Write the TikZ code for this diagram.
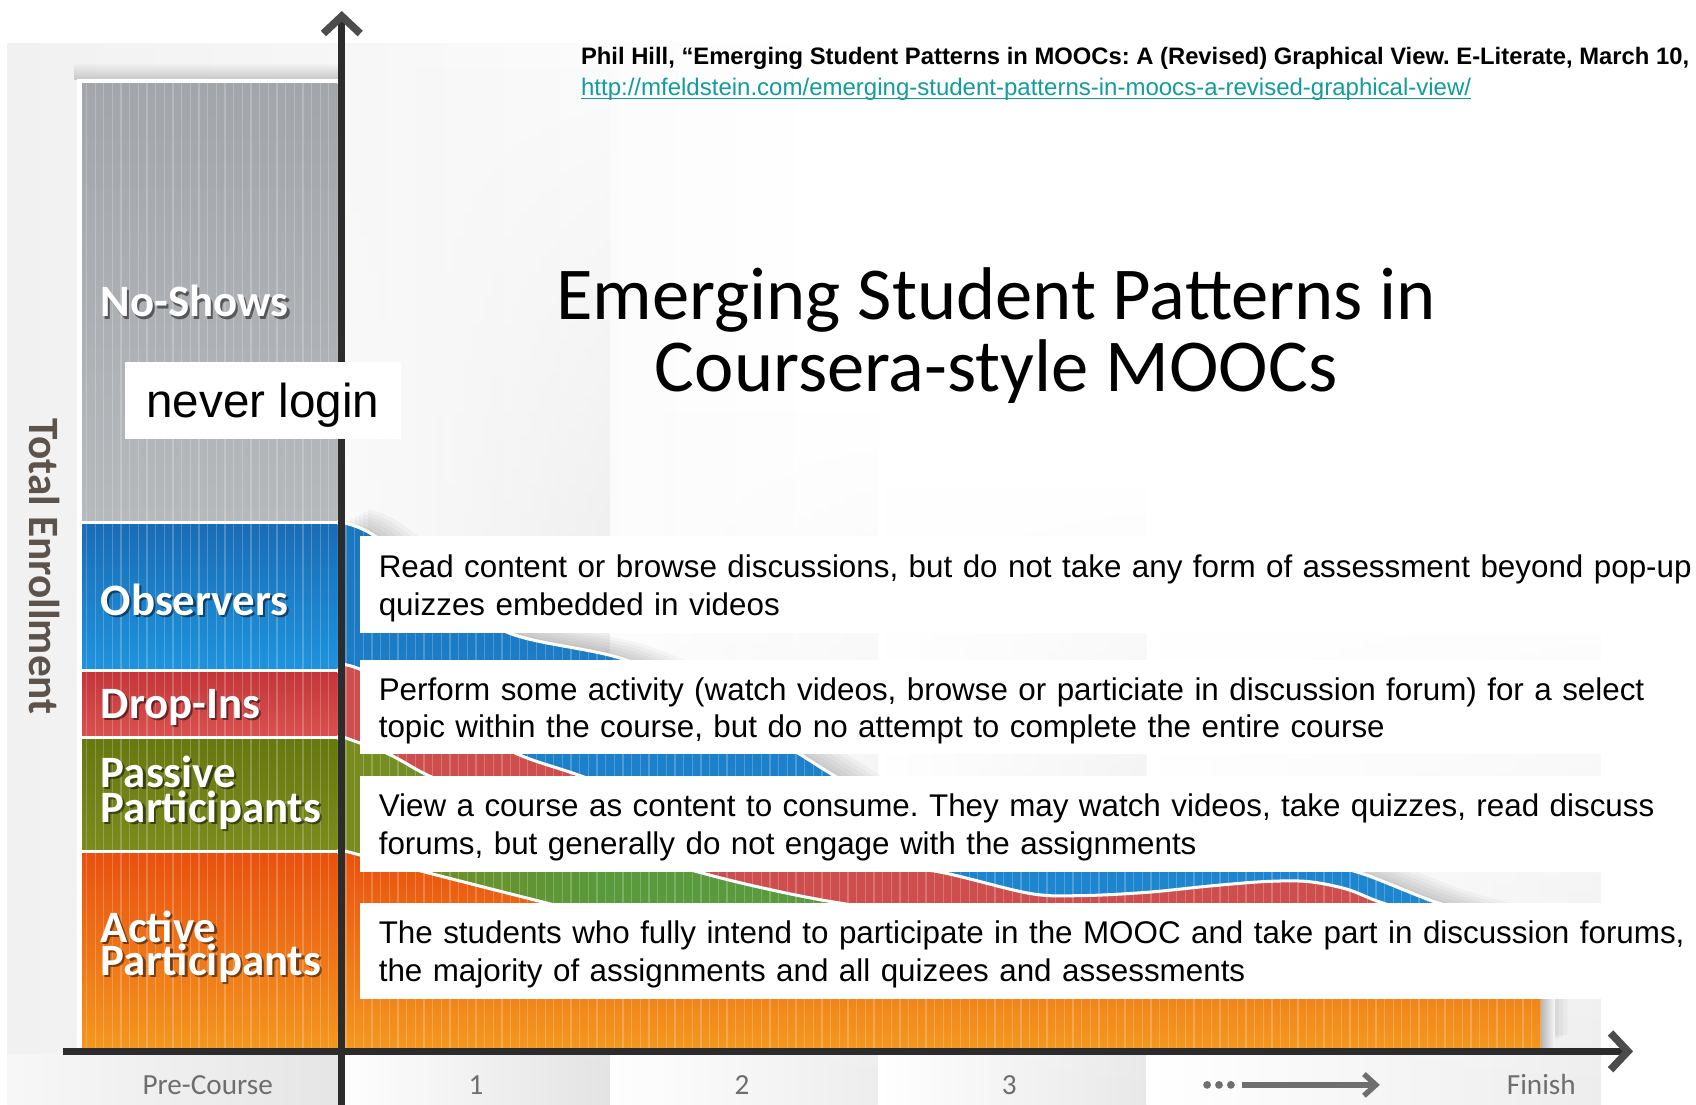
\documentclass[tikz,border=0pt]{standalone}
\usepackage{fontspec}
\setmainfont{Liberation Sans}
\newfontfamily\calfont{Carlito}
\usetikzlibrary{fadings}
\frenchspacing

\definecolor{axisc}{HTML}{2C2C2C}
\definecolor{nsgray}{HTML}{A2A5A9}
\definecolor{nsgrayB}{HTML}{B6B9BC}
\definecolor{obsT}{HTML}{1A6CB6}
\definecolor{obsB}{HTML}{1E93DC}
\definecolor{dropT}{HTML}{C4363A}
\definecolor{dropB}{HTML}{D8514F}
\definecolor{pasT}{HTML}{687810}
\definecolor{pasB}{HTML}{7B8B1D}
\definecolor{actT}{HTML}{E8510F}
\definecolor{actB}{HTML}{F4971F}
\definecolor{flowblue}{HTML}{1E8DD6}
\definecolor{flowred}{HTML}{CE4D4D}
\definecolor{flowgreen}{HTML}{589A3C}
\definecolor{labgray}{HTML}{6E6E6E}
\definecolor{urlteal}{HTML}{139C9C}
\definecolor{enrollc}{HTML}{5C534D}

\tikzfading[name=fadeup, top color=transparent!100, bottom color=transparent!0]
\tikzfading[name=fadeeast, left color=transparent!0, right color=transparent!100]

\def\Bcurve{plot[smooth,tension=0.55] coordinates {(316,483) (344,494) (405,540) (470,585) (575,609) (660,648) (739,697) (771,717) (820,745) (900,768) (1000,782) (1100,790) (1200,797) (1254,806) (1327,834) (1380,848) (1425,851)}}
\def\Rcurve{plot[smooth,tension=0.55] coordinates {(316,614) (340,622) (410,662) (478,697) (536,717) (620,748) (720,780) (800,798) (868,806) (952,826) (1000,828) (1060,825) (1120,819) (1170,815) (1209,815) (1245,822) (1276,834) (1320,846) (1425,852)}}
\def\Gcurve{plot[smooth,tension=0.55] coordinates {(316,681) (359,697) (396,717) (460,745) (540,775) (645,806) (710,822) (771,834) (850,845) (950,852) (1425,853)}}
\def\Ocurve{plot[smooth,tension=0.55] coordinates {(316,786) (392,806) (502,834) (560,848) (640,854) (1425,854)}}
\newcommand{\topstrut}{\rule{0pt}{28pt}}

\begin{document}
\begin{tikzpicture}[x=1pt,y=-1pt,
  stripe/.style={white,opacity=0.22,line width=1.2},
  descbox/.style={fill=white,anchor=north west,inner xsep=17,inner ysep=0,
    text width=1400,align=left,font=\fontsize{29}{35}\selectfont},
  cat/.style={anchor=base west,inner sep=0,text=white,
    font=\calfont\bfseries\fontsize{41.5}{41.5}\selectfont},
  catsh/.style={anchor=base west,inner sep=0,text=black,opacity=0.5,
    font=\calfont\bfseries\fontsize{41.5}{41.5}\selectfont},
  ticklab/.style={anchor=base,inner sep=0,text=labgray,
    font=\calfont\fontsize{27}{27}\selectfont},
  axisline/.style={axisc,line width=6.5},
  axishead/.style={axisc!85!white,line width=7,line join=miter,line cap=butt}]

\useasboundingbox (0,0) rectangle (1568,1021.6);
\fill[white] (0,0) rectangle (1568,1021.6);

% background panel and columns
\shade[left color=gray!11,right color=white] (7,40) rectangle (760,1021.6);
\shade[left color=white,right color=gray!22,path fading=fadeup] (319,60) rectangle (564,1021.6);
\shade[left color=white,right color=gray!14,path fading=fadeup] (564,380) rectangle (812,1021.6);
\shade[left color=white,right color=gray!18,path fading=fadeup] (812,450) rectangle (1060,1021.6);
\shade[left color=white,right color=gray!14,path fading=fadeup] (1060,540) rectangle (1480,1021.6);
\shade[left color=gray!6,right color=gray!20] (7,975) rectangle (313,1021.6);

% left stacked bar
\fill[gray!45,path fading=fadeup] (68,58) rectangle (316,74);
\fill[white] (71,73) rectangle (313,969);
\shade[top color=nsgray,bottom color=nsgrayB] (76,77) rectangle (312,481);
\shade[top color=obsT,bottom color=obsB] (76,485) rectangle (312,618);
\shade[top color=dropT,bottom color=dropB] (76,622) rectangle (312,680);
\shade[top color=pasT,bottom color=pasB] (76,684) rectangle (312,785);
\shade[top color=actT,bottom color=actB] (76,789) rectangle (312,969);
\begin{scope}
  \clip (76,77) rectangle (312,969);
  \foreach \x in {80,88,...,312} \draw[stripe] (\x,77) -- (\x,969);
\end{scope}

% flows after the course start
\foreach \s in {1,...,6}
  \fill[black,opacity=0.03,shift={(4*\s,-2*\s)}] \Bcurve -- (1425,969) -- (316,969) -- cycle;
\shade[top color=obsT!70!flowblue,bottom color=flowblue] \Bcurve -- (1425,969) -- (316,969) -- cycle;
\fill[flowred] \Rcurve -- (1425,969) -- (316,969) -- cycle;
\fill[flowgreen] \Gcurve -- (1425,969) -- (316,969) -- cycle;
\begin{scope}
  \clip \Gcurve -- (1425,969) -- (316,969) -- cycle;
  \fill[pasB,path fading=fadeeast] (316,670) rectangle (560,969);
\end{scope}
\shade[top color=actT,bottom color=actB] \Ocurve -- (1425,969) -- (316,969) -- cycle;
\draw[white,line width=2.8] \Bcurve;
\draw[white,line width=2.8] \Rcurve;
\draw[white,line width=2.8] \Gcurve;
\draw[white,line width=2.8] \Ocurve;
\begin{scope}
  \clip \Bcurve -- (1425,969) -- (316,969) -- cycle;
  \foreach \x in {320,328,...,1424} \draw[stripe] (\x,470) -- (\x,969);
\end{scope}
\shade[left color=gray!55,right color=gray!8] (1425,923) rectangle (1437,969);

% description boxes
\node[descbox,minimum height=90] (obsdesc) at (333,495)
  {\topstrut Read content or browse discussions, but do not take any form of assessment beyond pop-up\\quizzes embedded in videos};
\node[descbox,minimum height=87] (dropdesc) at (333,610)
  {\topstrut Perform some activity (watch videos, browse or particiate in discussion forum) for a select\\topic within the course, but do no attempt to complete the entire course};
\node[descbox,minimum height=89] (pasdesc) at (333,717)
  {\topstrut View a course as content to consume. They may watch videos, take quizzes, read discuss\\forums, but generally do not engage with the assignments};
\node[descbox,minimum height=88] (actdesc) at (333,835)
  {\topstrut The students who fully intend to participate in the MOOC and take part in discussion forums,\\the majority of assignments and all quizees and assessments};

% axes
\coordinate (ybot) at (316,1021.6);
\coordinate (ytop) at (316,15);
\coordinate (xleft) at (58,972);
\coordinate (xright) at (1505,972);
\draw[axisline] (ybot) -- (ytop);
\draw[axishead] (299,31) -- (ytop) -- (333,31);
\draw[axisline] (xleft) -- (xright);
\draw[axishead] (1489,955) -- (xright) -- (1489,989);

% never login (drawn over the axis)
\node[fill=white,minimum width=255,minimum height=71,inner sep=0] (neverbox) at (243.5,370.5) {};
\node[anchor=base,inner sep=0,font=\fontsize{44}{44}\selectfont] (never) at (243,386) {never login};

% category labels
\node[catsh] at (95,295) {No-Shows};
\node[cat] (noshow) at (93,293) {No-Shows};
\node[catsh] at (95,571) {Observers};
\node[cat] (observers) at (93,569) {Observers};
\node[catsh] at (95,666) {Drop-Ins};
\node[cat] (dropins) at (93,664) {Drop-Ins};
\node[catsh] at (95,730) {Passive};
\node[cat] (passive1) at (93,728) {Passive};
\node[catsh] at (95,762) {Participants};
\node[cat] (passive2) at (93,760) {Participants};
\node[catsh] at (95,873) {Active};
\node[cat] (active1) at (93,871) {Active};
\node[catsh] at (95,904) {Participants};
\node[cat] (active2) at (93,902) {Participants};

% y axis label
\node[rotate=-90,inner sep=0,text=enrollc,font=\calfont\bfseries\fontsize{40}{40}\selectfont] (ylab) at (41,524) {Total Enrollment};

% x tick labels
\node[ticklab] (pre) at (192,1012) {Pre-Course};
\node[ticklab] (w1) at (440,1012) {1};
\node[ticklab] (w2) at (686,1012) {2};
\node[ticklab] (w3) at (933,1012) {3};
\node[ticklab] (fin) at (1425,1012) {Finish};
\fill[labgray] (1116,1003) circle (3.6);
\fill[labgray] (1127,1003) circle (3.6);
\fill[labgray] (1138,1003) circle (3.6);
\coordinate (dotend) at (1148,1003);
\coordinate (dotarr) at (1272,1003);
\draw[labgray,line width=5.5] (dotend) -- (1268,1003);
\draw[labgray,line width=5,line join=miter] (1261,993) -- (dotarr) -- (1261,1013);

% title
\node[anchor=base,inner sep=0,font=\calfont\fontsize{69}{69}\selectfont] (title1) at (921,295) {Emerging Student Patterns in};
\node[anchor=base,inner sep=0,font=\calfont\fontsize{69}{69}\selectfont] (title2) at (921,362) {Coursera-style MOOCs};

% citation
\node[anchor=base west,inner sep=0,font=\bfseries\fontsize{22}{22}\selectfont] (cite) at (537,60)
  {Phil Hill, “Emerging Student Patterns in MOOCs: A (Revised) Graphical View. E-Literate, March 10,};
\node[anchor=base west,inner sep=0,text=urlteal,font=\fontsize{22.2}{22.2}\selectfont] (url) at (537,88)
  {http://mfeldstein.com/emerging-student-patterns-in-moocs-a-revised-graphical-view/};
\draw[urlteal,line width=1.5] ([yshift=-3pt]url.base west) -- ([yshift=-3pt]url.base east);
\end{tikzpicture}
\end{document}
